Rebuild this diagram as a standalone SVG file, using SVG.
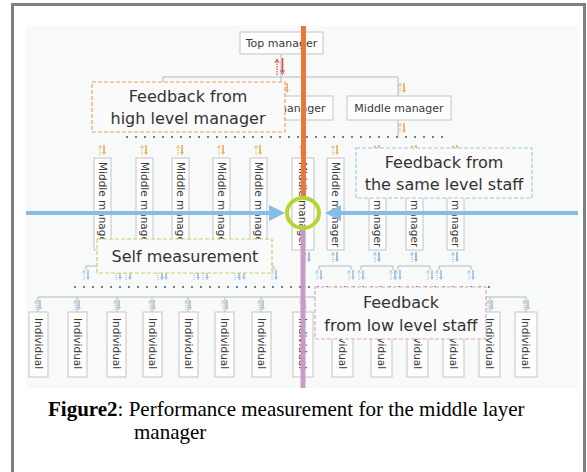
<svg xmlns="http://www.w3.org/2000/svg" xmlns:xlink="http://www.w3.org/1999/xlink" width="587" height="472" viewBox="0 0 587 472">
<style>
.frame{fill:#ffffff;stroke:#7f7f7f;stroke-width:3}
.bg{fill:#f8f9f9}
.box{fill:#fdfdfd;stroke:#c4c4c4;stroke-width:1}
.lbl{font-family:"DejaVu Sans",sans-serif;font-size:11px;fill:#3a3a3a}
.vl{font-family:"DejaVu Sans",sans-serif;font-size:10.5px;fill:#3a3a3a;dominant-baseline:central}
.fb{font-family:"DejaVu Sans",sans-serif;font-size:16px;fill:#333333;text-anchor:middle}
.bus{fill:none;stroke:#b8b8b8;stroke-width:1}
.dots{fill:none;stroke:#555555;stroke-width:2;stroke-linecap:round;stroke-dasharray:0 9}
.cap{font-family:"Liberation Serif",serif;font-size:21px;fill:#000000}
</style>
<defs>
<g id="pair" fill="none" stroke="currentColor">
<line x1="-2" y1="10" x2="-2" y2="2" stroke-width="1" stroke-dasharray="1 1"/>
<path d="M-3.5,3 L-2,0.5 L-0.5,3" stroke-width="0.8"/>
<line x1="2" y1="0" x2="2" y2="8" stroke-width="1.4"/>
<path d="M0.5,7 L2,9.5 L3.5,7" stroke-width="0.8"/>
</g>
<marker id="bh" markerWidth="4" markerHeight="4" refX="2" refY="2" orient="auto" markerUnits="strokeWidth">
<path d="M0,0 L4,2 L0,4 z" fill="#86bde6"/>
</marker>
</defs>

<rect class="frame" x="12.5" y="4.5" width="572" height="470"/>
<rect class="bg" x="26" y="26" width="552" height="362"/>

<g id="connectors">
<path class="bus" d="M281,54 V77 M163,77 H398 M163,77 V96 M281,77 V96 M398,77 V96 M398,120 V137"/>
<g fill="none" stroke="#d94848">
<line x1="277" y1="75" x2="277" y2="61" stroke-width="1.2" stroke-dasharray="1.5 1"/>
<path d="M275,63 L277,59 L279,63" stroke-width="1"/>
<line x1="282.5" y1="58" x2="282.5" y2="72" stroke-width="1.6"/>
<path d="M280.5,70 L282.5,74.5 L284.5,70" stroke-width="1"/>
</g>
<use xlink:href="#pair" transform="translate(285,83)" color="#e8a040"/>
<use xlink:href="#pair" transform="translate(402,83)" color="#e8a040"/>
<use xlink:href="#pair" transform="translate(402,123)" color="#e8a040"/>
<line class="dots" x1="127" y1="137" x2="446" y2="137"/>
<g color="#e8a040">
<use xlink:href="#pair" transform="translate(102,145)"/>
<use xlink:href="#pair" transform="translate(144,145)"/>
<use xlink:href="#pair" transform="translate(180,145)"/>
<use xlink:href="#pair" transform="translate(221,145)"/>
<use xlink:href="#pair" transform="translate(258,145)"/>
<use xlink:href="#pair" transform="translate(303,145)"/>
<use xlink:href="#pair" transform="translate(335,145)"/>
<use xlink:href="#pair" transform="translate(377,145)"/>
<use xlink:href="#pair" transform="translate(414,145)"/>
<use xlink:href="#pair" transform="translate(455,145)"/>
</g>
<g color="#7aa8dc">
<use xlink:href="#pair" transform="translate(102,252)"/>
<use xlink:href="#pair" transform="translate(144,252)"/>
<use xlink:href="#pair" transform="translate(180,252)"/>
<use xlink:href="#pair" transform="translate(221,252)"/>
<use xlink:href="#pair" transform="translate(258,252)"/>
<use xlink:href="#pair" transform="translate(307,252)"/>
<use xlink:href="#pair" transform="translate(335,252)"/>
<use xlink:href="#pair" transform="translate(377,252)"/>
<use xlink:href="#pair" transform="translate(414,252)"/>
<use xlink:href="#pair" transform="translate(455,252)"/>
</g>
<path class="bus" d="M86,266 H118 M86,266 V270 M118,266 V270 M128,266 H160 M128,266 V270 M160,266 V270 M164,266 H196 M164,266 V270 M196,266 V270 M205,266 H237 M205,266 V270 M237,266 V270 M242,266 H274 M242,266 V270 M274,266 V270 M319,266 H351 M319,266 V270 M351,266 V270 M361,266 H393 M361,266 V270 M393,266 V270 M398,266 H430 M398,266 V270 M430,266 V270 M439,266 H471 M439,266 V270 M471,266 V270"/>
<g color="#8fb8e0">
<use xlink:href="#pair" transform="translate(86,270)"/><use xlink:href="#pair" transform="translate(118,270)"/>
<use xlink:href="#pair" transform="translate(128,270)"/><use xlink:href="#pair" transform="translate(160,270)"/>
<use xlink:href="#pair" transform="translate(164,270)"/><use xlink:href="#pair" transform="translate(196,270)"/>
<use xlink:href="#pair" transform="translate(205,270)"/><use xlink:href="#pair" transform="translate(237,270)"/>
<use xlink:href="#pair" transform="translate(242,270)"/><use xlink:href="#pair" transform="translate(274,270)"/>
<use xlink:href="#pair" transform="translate(319,270)"/><use xlink:href="#pair" transform="translate(351,270)"/>
<use xlink:href="#pair" transform="translate(361,270)"/><use xlink:href="#pair" transform="translate(393,270)"/>
<use xlink:href="#pair" transform="translate(398,270)"/><use xlink:href="#pair" transform="translate(430,270)"/>
<use xlink:href="#pair" transform="translate(439,270)"/><use xlink:href="#pair" transform="translate(471,270)"/>
</g>
<line class="dots" x1="75" y1="287" x2="497" y2="287"/>
<path class="bus" d="M38,297 H526 M38,297 V312 M77,297 V312 M117,297 V312 M152,297 V312 M188,297 V312 M225,297 V312 M261,297 V312 M303,297 V312 M342,297 V312 M382,297 V312 M418,297 V312 M454,297 V312 M490,297 V312 M526,297 V312"/>
<g color="#9ab8d8">
<use xlink:href="#pair" transform="translate(38,300)"/><use xlink:href="#pair" transform="translate(77,300)"/>
<use xlink:href="#pair" transform="translate(117,300)"/><use xlink:href="#pair" transform="translate(152,300)"/>
<use xlink:href="#pair" transform="translate(188,300)"/><use xlink:href="#pair" transform="translate(225,300)"/>
<use xlink:href="#pair" transform="translate(261,300)"/><use xlink:href="#pair" transform="translate(303,300)"/>
<use xlink:href="#pair" transform="translate(342,300)"/><use xlink:href="#pair" transform="translate(382,300)"/>
<use xlink:href="#pair" transform="translate(418,300)"/><use xlink:href="#pair" transform="translate(454,300)"/>
<use xlink:href="#pair" transform="translate(490,300)"/><use xlink:href="#pair" transform="translate(526,300)"/>
</g>
</g>

<g id="top-manager">
<rect class="box" x="240" y="32" width="83" height="22"/>
<text class="lbl" x="281.5" y="47" text-anchor="middle" font-size="10.5">Top manager</text>
</g>
<g id="mm2-center"><rect class="box" x="229" y="96" width="104" height="24"/><text class="lbl" x="281" y="112" text-anchor="middle">Middle manager</text></g>
<g id="mm2-right"><rect class="box" x="347" y="96" width="104" height="24"/><text class="lbl" x="399" y="112" text-anchor="middle">Middle manager</text></g>

<g id="mm3-1"><rect class="box" x="94" y="158" width="17" height="92"/><text class="vl" transform="translate(102.5,162) rotate(90)">Middle manager</text></g>
<g id="mm3-2"><rect class="box" x="136" y="158" width="17" height="92"/><text class="vl" transform="translate(144.5,162) rotate(90)">Middle manager</text></g>
<g id="mm3-3"><rect class="box" x="172" y="158" width="17" height="92"/><text class="vl" transform="translate(180.5,162) rotate(90)">Middle manager</text></g>
<g id="mm3-4"><rect class="box" x="213" y="158" width="17" height="92"/><text class="vl" transform="translate(221.5,162) rotate(90)">Middle manager</text></g>
<g id="mm3-5"><rect class="box" x="250" y="158" width="17" height="92"/><text class="vl" transform="translate(258.5,162) rotate(90)">Middle manager</text></g>
<g id="mm3-6"><rect class="box" x="292" y="158" width="22" height="92"/><text class="vl" transform="translate(303,162) rotate(90)">Middle manager</text></g>
<g id="mm3-7"><rect class="box" x="327" y="158" width="17" height="92"/><text class="vl" transform="translate(335.5,162) rotate(90)">Middle manager</text></g>
<g id="mm3-8"><rect class="box" x="369" y="158" width="17" height="92"/><text class="vl" transform="translate(377.5,162) rotate(90)">Middle manager</text></g>
<g id="mm3-9"><rect class="box" x="406" y="158" width="17" height="92"/><text class="vl" transform="translate(414.5,162) rotate(90)">Middle manager</text></g>
<g id="mm3-10"><rect class="box" x="447" y="158" width="17" height="92"/><text class="vl" transform="translate(455.5,162) rotate(90)">Middle manager</text></g>

<g id="ind-1"><rect class="box" x="29" y="312" width="19" height="65"/><text class="vl" transform="translate(38.5,318) rotate(90)">Individual</text></g>
<g id="ind-2"><rect class="box" x="68" y="312" width="19" height="65"/><text class="vl" transform="translate(77.5,318) rotate(90)">Individual</text></g>
<g id="ind-3"><rect class="box" x="107" y="312" width="19" height="65"/><text class="vl" transform="translate(116.5,318) rotate(90)">Individual</text></g>
<g id="ind-4"><rect class="box" x="143" y="312" width="19" height="65"/><text class="vl" transform="translate(152.5,318) rotate(90)">Individual</text></g>
<g id="ind-5"><rect class="box" x="179" y="312" width="19" height="65"/><text class="vl" transform="translate(188.5,318) rotate(90)">Individual</text></g>
<g id="ind-6"><rect class="box" x="215" y="312" width="19" height="65"/><text class="vl" transform="translate(224.5,318) rotate(90)">Individual</text></g>
<g id="ind-7"><rect class="box" x="252" y="312" width="19" height="65"/><text class="vl" transform="translate(261.5,318) rotate(90)">Individual</text></g>
<g id="ind-8"><rect class="box" x="293" y="312" width="20" height="65"/><text class="vl" transform="translate(303,318) rotate(90)">Individual</text></g>
<g id="ind-9"><rect class="box" x="332" y="312" width="21" height="65"/><text class="vl" transform="translate(342.5,318) rotate(90)">Individual</text></g>
<g id="ind-10"><rect class="box" x="371" y="312" width="21" height="65"/><text class="vl" transform="translate(381.5,318) rotate(90)">Individual</text></g>
<g id="ind-11"><rect class="box" x="407" y="312" width="21" height="65"/><text class="vl" transform="translate(417.5,318) rotate(90)">Individual</text></g>
<g id="ind-12"><rect class="box" x="443" y="312" width="21" height="65"/><text class="vl" transform="translate(453.5,318) rotate(90)">Individual</text></g>
<g id="ind-13"><rect class="box" x="479" y="312" width="21" height="65"/><text class="vl" transform="translate(489.5,318) rotate(90)">Individual</text></g>
<g id="ind-14"><rect class="box" x="515" y="312" width="22" height="65"/><text class="vl" transform="translate(526,318) rotate(90)">Individual</text></g>

<g id="highlights">
<line x1="303.5" y1="26" x2="303.5" y2="197" stroke="#e8793a" stroke-width="5"/>
<line x1="303" y1="228" x2="303" y2="388" stroke="#c99ac6" stroke-width="5"/>
<line x1="26" y1="213" x2="277" y2="213" stroke="#86bde6" stroke-width="4" marker-end="url(#bh)"/>
<line x1="578" y1="213" x2="333" y2="213" stroke="#86bde6" stroke-width="4" marker-end="url(#bh)"/>
<ellipse cx="303" cy="213" rx="16" ry="15" fill="none" stroke="#b8d432" stroke-width="4"/>
</g>

<g id="fb-high">
<rect x="92" y="82" width="193" height="50" fill="#fafafa" stroke="#e8a070" stroke-width="1.2" stroke-dasharray="4 2"/>
<text class="fb" x="188" y="102">Feedback from</text>
<text class="fb" x="188" y="124">high level manager</text>
</g>
<g id="fb-same">
<rect x="356" y="148" width="176" height="50" fill="#fafafa" stroke="#9cc8e6" stroke-width="1.2" stroke-dasharray="4 2"/>
<text class="fb" x="444" y="168">Feedback from</text>
<text class="fb" x="444" y="190" font-size="15">the same level staff</text>
</g>
<g id="fb-self">
<rect x="97" y="239" width="175" height="34" fill="#fafafa" stroke="#d2cc6a" stroke-width="1.2" stroke-dasharray="4 2"/>
<text class="fb" x="185" y="262">Self measurement</text>
</g>
<g id="fb-low">
<rect x="315" y="287" width="171" height="52" fill="#fafafa" stroke="#d9a8b8" stroke-width="1.2" stroke-dasharray="4 2"/>
<text class="fb" x="401" y="308">Feedback</text>
<text class="fb" x="401" y="331" font-size="15">from low level staff</text>
</g>

<g id="caption">
<text class="cap" x="48" y="416"><tspan font-weight="bold">Figure2</tspan>: Performance measurement for the middle layer</text>
<text class="cap" x="134" y="439">manager</text>
</g>
</svg>
